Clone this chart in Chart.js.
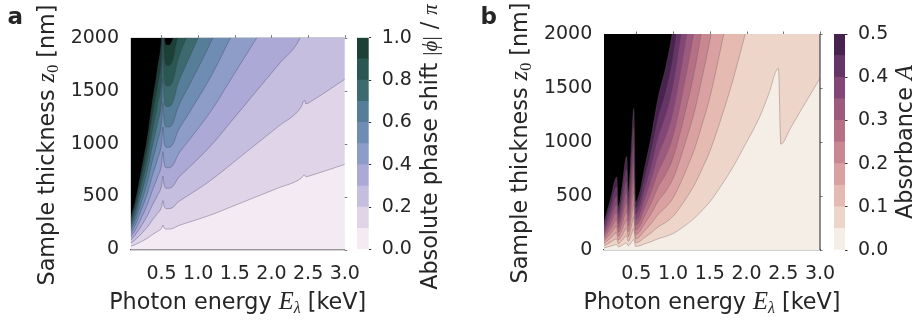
<!DOCTYPE html>
<html>
<head>
<meta charset="utf-8">
<title>Phase shift and absorbance vs photon energy</title>
<script src="https://cdn.jsdelivr.net/npm/chart.js"></script>
<style>
  body { margin: 0; background: #fff; }
  #fig { position: relative; width: 918px; height: 322px; overflow: hidden; }
  #fig canvas { position: absolute; top: 0; }
</style>
</head>
<body>
<div id="fig">
  <canvas id="mainA" width="385" height="322" style="left:0px"></canvas>
  <canvas id="barA" width="100" height="322" style="left:350px"></canvas>
  <canvas id="mainB" width="395" height="322" style="left:470px"></canvas>
  <canvas id="barB" width="92" height="322" style="left:826px"></canvas>
</div>
<script>
// ---------- panel a: contour lines of |phi|/pi (z0 in nm at each energy) ----------
const energyA = [0.08, 0.137, 0.228, 0.31, 0.373, 0.445, 0.5, 0.52, 0.535, 0.57, 0.6, 0.66, 0.72, 0.84, 1.0, 1.2, 1.44, 1.8, 2.1, 2.4, 2.45, 2.47, 2.55, 3.0];
const phase01 = [30, 44, 76, 107, 139, 170, 200, 231, 205, 193, 193, 200, 222, 250, 286, 333, 400, 500, 583, 670, 705, 688, 702, 804];
const phase02 = [60, 88, 151, 214, 277, 340, 400, 462, 410, 386, 386, 400, 444, 500, 571, 667, 800, 1000, 1166, 1340, 1410, 1376, 1404, 1608];
const phase03 = [90, 133, 227, 322, 416, 511, 600, 693, 615, 579, 579, 600, 667, 750, 857, 1000, 1200, 1500, 1749, 2010, 2115, 2064, 2106, 2412];
const phase04 = [120, 177, 303, 429, 554, 681, 800, 924, 820, 772, 772, 800, 889, 1000, 1143, 1333, 1600, 2000, 2332, 2680, 2820, 2752, 2808, 3216];
const phase05 = [150, 221, 379, 536, 693, 851, 1000, 1155, 1025, 965, 965, 1000, 1111, 1250, 1429, 1667, 2000, 2500, 2915, 3350, 3525, 3440, 3510, 4020];
const phase06 = [180, 265, 454, 643, 832, 1021, 1200, 1386, 1230, 1158, 1158, 1200, 1333, 1500, 1714, 2000, 2400, 3000, 3498, 4020, 4230, 4128, 4212, 4824];
const phase07 = [210, 309, 530, 750, 970, 1191, 1400, 1617, 1435, 1351, 1351, 1400, 1555, 1750, 2000, 2333, 2800, 3500, 4081, 4690, 4935, 4816, 4914, 5628];
const phase08 = [240, 354, 606, 858, 1109, 1362, 1600, 1848, 1640, 1544, 1544, 1600, 1778, 2000, 2286, 2666, 3200, 4000, 4664, 5360, 5640, 5504, 5616, 6432];
const phase09 = [270, 398, 681, 965, 1247, 1532, 1800, 2079, 1845, 1737, 1737, 1800, 2000, 2250, 2571, 3000, 3600, 4500, 5247, 6030, 6345, 6192, 6318, 7236];
const phase10 = [300, 442, 757, 1072, 1386, 1702, 2000, 2310, 2050, 1930, 1930, 2000, 2222, 2500, 2857, 3333, 4000, 5000, 5830, 6700, 7050, 6880, 7020, 8040];
const phaseCurves = [phase01, phase02, phase03, phase04, phase05, phase06, phase07, phase08, phase09, phase10];
const phaseLevels = [0, 0.1, 0.2, 0.3, 0.4, 0.5, 0.6, 0.7, 0.8, 0.9, 1.0];
const phaseColors = ['#f4eaf3', '#e0d4e9', '#c6bedf', '#aca9d7', '#8e9cc8', '#6f8db3', '#577e98', '#3c6a6e', '#2b5753', '#1c3f36'];
const phaseTicks = [0, 0.2, 0.4, 0.6, 0.8, 1.0];
const phaseTickLabels = ['0.0', '0.2', '0.4', '0.6', '0.8', '1.0'];

// ---------- panel b: contour lines of absorbance A ----------
const energyB = [0.06, 0.15, 0.233, 0.255, 0.30, 0.369, 0.39, 0.43, 0.466, 0.49, 0.55, 0.6, 0.7, 0.8, 0.9, 1.0, 1.1, 1.2, 1.3, 1.4, 1.5, 1.65, 1.8, 1.97, 2.18, 2.3, 2.434, 2.467, 2.6, 2.73, 3.0];
const abs05 = [19, 35, 50, 29, 41, 64, 39, 68, 97, 33, 40, 53, 77, 105, 125, 152, 195, 245, 300, 370, 445, 590, 750, 960, 1234, 1440, 1682, 980, 1130, 1281, 1590];
const abs10 = [39, 72, 103, 59, 84, 131, 80, 139, 199, 68, 82, 109, 158, 215, 256, 312, 400, 502, 615, 759, 912, 1210, 1538, 1968, 2530, 2952, 3448, 2009, 2317, 2626, 3260];
const abs15 = [60, 111, 159, 92, 130, 203, 124, 216, 307, 105, 127, 168, 244, 333, 396, 482, 618, 777, 951, 1173, 1411, 1870, 2378, 3043, 3912, 4565, 5332, 3107, 3582, 4061, 5040];
const abs20 = [83, 152, 218, 126, 178, 278, 170, 296, 422, 144, 174, 231, 335, 457, 544, 661, 848, 1066, 1305, 1610, 1936, 2567, 3263, 4176, 5368, 6264, 7317, 4263, 4916, 5572, 6917];
const abs25 = [107, 196, 281, 163, 230, 359, 219, 381, 544, 185, 224, 297, 432, 589, 701, 853, 1094, 1374, 1683, 2076, 2496, 3310, 4208, 5386, 6923, 8078, 9436, 5498, 6339, 7186, 8920];
const abs30 = [132, 243, 348, 202, 285, 445, 271, 473, 674, 229, 278, 368, 535, 730, 869, 1056, 1355, 1703, 2085, 2572, 3093, 4101, 5213, 6672, 8576, 10008, 11690, 6811, 7854, 8903, 11051];
const abs35 = [160, 294, 420, 244, 344, 538, 328, 571, 815, 277, 336, 445, 647, 882, 1050, 1277, 1638, 2058, 2520, 3108, 3738, 4956, 6300, 8064, 10366, 12096, 14129, 8232, 9492, 10760, 13356];
const abs40 = [189, 349, 498, 289, 408, 637, 388, 677, 966, 329, 398, 528, 767, 1046, 1245, 1514, 1942, 2440, 2988, 3685, 4432, 5876, 7470, 9562, 12291, 14342, 16753, 9761, 11255, 12759, 15836];
const abs45 = [221, 408, 583, 338, 478, 746, 454, 792, 1130, 384, 466, 617, 897, 1223, 1456, 1771, 2272, 2854, 3495, 4311, 5184, 6874, 8738, 11184, 14376, 16776, 19595, 11417, 13165, 14924, 18524];
const abs50 = [257, 473, 676, 392, 554, 865, 527, 919, 1310, 446, 540, 716, 1040, 1419, 1689, 2054, 2634, 3310, 4053, 4999, 6012, 7971, 10133, 12970, 16671, 19454, 22724, 13240, 15266, 17306, 21481];
const absCurves = [abs05, abs10, abs15, abs20, abs25, abs30, abs35, abs40, abs45, abs50];
const absLevels = [0, 0.05, 0.1, 0.15, 0.2, 0.25, 0.3, 0.35, 0.4, 0.45, 0.5];
const absColors = ['#f5eee6', '#eed5c9', '#e4bab1', '#d9a1a2', '#c98891', '#b67086', '#9d5a7f', '#834676', '#663466', '#482350'];
const absTicks = [0, 0.1, 0.2, 0.3, 0.4, 0.5];
const absTickLabels = ['0.0', '0.1', '0.2', '0.3', '0.4', '0.5'];

// shared axes
const energyTicks = [0.5, 1.0, 1.5, 2.0, 2.5, 3.0];
const energyTickLabels = ['0.5', '1.0', '1.5', '2.0', '2.5', '3.0'];
const thicknessTicks = [0, 500, 1000, 1500, 2000];
const thicknessTickLabels = ['0', '500', '1000', '1500', '2000'];

const INK = '#262626';
const SANS = '22.3px "DejaVu Sans"';
const MATH = 'italic 24.5px "Liberation Serif"';
const SUB = '16px "Liberation Serif"';
const SUB_I = 'italic 16px "Liberation Serif"';
const MATH_S = 'italic 21px "Liberation Serif"';
const MATH_S_UP = '21px "Liberation Serif"';
const tickFont = { family: 'DejaVu Sans', size: 19 };

// text with mixed fonts, drawn centred (or left) at x,y, rotated by rot
function drawRich(ctx, item) {
  ctx.save();
  ctx.translate(item.x, item.y);
  ctx.rotate(item.rot || 0);
  ctx.fillStyle = INK;
  ctx.textBaseline = 'alphabetic';
  ctx.textAlign = 'left';
  let total = 0;
  item.parts.forEach(p => { ctx.font = p[1]; total += ctx.measureText(p[0]).width; });
  let cx = item.align === 'left' ? 0 : -total / 2;
  item.parts.forEach(p => {
    ctx.font = p[1];
    ctx.fillText(p[0], cx, p[2] || 0);
    cx += ctx.measureText(p[0]).width;
  });
  ctx.restore();
}

const richText = {
  id: 'richText',
  afterDraw(chart, args, opts) {
    (opts.items || []).forEach(it => drawRich(chart.ctx, it));
  }
};

const areaFill = {
  id: 'areaFill',
  beforeDatasetsDraw(chart, args, opts) {
    const a = chart.chartArea, ctx = chart.ctx;
    ctx.save();
    ctx.fillStyle = opts.color;
    ctx.fillRect(a.left, a.top, a.right - a.left, a.bottom - a.top);
    ctx.restore();
  }
};

// small outer ticks on top and right, optional right spine
const frame = {
  id: 'frame',
  afterDraw(chart, args, opts) {
    const a = chart.chartArea, ctx = chart.ctx;
    const xs = chart.scales.x, ys = chart.scales.y;
    ctx.save();
    ctx.strokeStyle = opts.tickColor;
    ctx.lineWidth = 1;
    energyTicks.forEach(v => {
      const px = Math.round(xs.getPixelForValue(v)) + 0.5;
      ctx.beginPath(); ctx.moveTo(px, a.top); ctx.lineTo(px, a.top - 2.5); ctx.stroke();
    });
    thicknessTicks.forEach(v => {
      const py = Math.round(ys.getPixelForValue(v)) + 0.5;
      ctx.beginPath(); ctx.moveTo(a.right, py); ctx.lineTo(a.right + 2.5, py); ctx.stroke();
    });
    if (opts.rightSpine) {
      ctx.strokeStyle = '#444';
      ctx.lineWidth = 1.2;
      ctx.beginPath(); ctx.moveTo(a.right, a.top); ctx.lineTo(a.right, a.bottom); ctx.stroke();
    }
    ctx.restore();
  }
};

function contourChart(id, energy, curves, colors, lineColor, xmin, box, extras) {
  const fills = colors.slice(1).concat(['#000000']);
  const datasets = curves.map((ys, k) => ({
    data: ys.map((z, i) => ({ x: energy[i], y: z })),
    borderColor: lineColor,
    borderWidth: 0.7,
    pointRadius: 0,
    fill: 'end',
    backgroundColor: fills[k],
    cubicInterpolationMode: 'monotone',
    order: curves.length - k
  }));
  return new Chart(document.getElementById(id), {
    type: 'line',
    data: { datasets },
    plugins: [areaFill, frame, richText],
    options: {
      responsive: false, animation: false, devicePixelRatio: 1, events: [],
      layout: { padding: { left: 0, top: box.top, right: box.right, bottom: 0 } },
      plugins: {
        legend: { display: false },
        tooltip: { enabled: false },
        areaFill: { color: colors[0] },
        frame: { tickColor: 'rgba(60,60,60,0.7)', rightSpine: extras.rightSpine },
        richText: { items: extras.texts }
      },
      scales: {
        x: {
          type: 'linear', min: xmin, max: 3.0, z: 1,
          afterBuildTicks: s => { s.ticks = energyTicks.map(v => ({ value: v })); },
          afterFit: s => { s.height = box.xHeight; },
          ticks: { callback: (v, i) => energyTickLabels[i], font: tickFont, color: INK, padding: 13, maxRotation: 0, autoSkip: false },
          grid: { display: false, drawTicks: false },
          border: { display: true, color: '#444', width: 1.2 }
        },
        y: {
          type: 'linear', min: 0, max: 2000,
          afterBuildTicks: s => { s.ticks = thicknessTicks.map(v => ({ value: v })); },
          afterFit: s => { s.width = box.yWidth; },
          ticks: { callback: (v, i) => thicknessTickLabels[i], font: tickFont, color: INK, padding: 11.7, autoSkip: false },
          grid: { display: false, drawTicks: false },
          border: { display: false }
        }
      }
    }
  });
}

function colorbarChart(id, levels, colors, ticks, tickLabels, box, texts) {
  const datasets = colors.map((c, i) => ({
    data: [[levels[i], levels[i + 1]]],
    backgroundColor: c,
    borderWidth: 0,
    barPercentage: 1,
    categoryPercentage: 1,
    grouped: false
  }));
  return new Chart(document.getElementById(id), {
    type: 'bar',
    data: { labels: [''], datasets },
    plugins: [richText],
    options: {
      responsive: false, animation: false, devicePixelRatio: 1, events: [],
      layout: { padding: { left: box.left, top: box.top, right: 0, bottom: box.bottom } },
      plugins: { legend: { display: false }, tooltip: { enabled: false }, richText: { items: texts } },
      scales: {
        x: { display: false },
        y: {
          position: 'right', min: levels[0], max: levels[levels.length - 1],
          afterBuildTicks: s => { s.ticks = ticks.map(v => ({ value: v })); },
          afterFit: s => { s.width = box.yWidth; },
          ticks: { callback: (v, i) => tickLabels[i], font: tickFont, color: INK, padding: 10.5, autoSkip: false },
          grid: { drawOnChartArea: false, drawTicks: true, tickLength: 2.5, color: '#333' },
          border: { display: false }
        }
      }
    }
  });
}

// panel a
contourChart('mainA', energyA, phaseCurves, phaseColors, 'rgba(60,60,85,0.5)', 0.08,
  { top: 37.7, right: 40.2, yWidth: 130.7, xHeight: 72.5 },
  { rightSpine: false, texts: [
    { x: 7.5, y: 24, align: 'left', parts: [['a', 'bold 23px "DejaVu Sans"']] },
    { x: 54, y: 145, rot: -Math.PI / 2, parts: [['Sample thickness ', SANS], ['z', MATH], ['0', SUB, 4], [' [nm]', SANS]] },
    { x: 237.7, y: 309, parts: [['Photon energy ', SANS], ['E', MATH], ['λ', SUB_I, 4], [' [keV]', SANS]] }
  ] });

colorbarChart('barA', phaseLevels, phaseColors, phaseTicks, phaseTickLabels,
  { left: 7, top: 37.7, bottom: 72.5, yWidth: 81.3 },
  [ { x: 86.7, y: 147, rot: -Math.PI / 2, parts: [['Absolute phase shift ', SANS], ['|', MATH_S_UP], ['ϕ', MATH_S], ['|', MATH_S_UP], [' / ', SANS], ['π', MATH_S]] } ]);

// panel b
contourChart('mainB', energyB, absCurves, absColors, 'rgba(110,90,90,0.5)', 0.06,
  { top: 34, right: 45, yWidth: 134, xHeight: 72 },
  { rightSpine: true, texts: [
    { x: 10.5, y: 24, align: 'left', parts: [['b', 'bold 23px "DejaVu Sans"']] },
    { x: 56.5, y: 143, rot: -Math.PI / 2, parts: [['Sample thickness ', SANS], ['z', MATH], ['0', SUB, 4], [' [nm]', SANS]] },
    { x: 242, y: 309, parts: [['Photon energy ', SANS], ['E', MATH], ['λ', SUB_I, 4], [' [keV]', SANS]] }
  ] });

colorbarChart('barB', absLevels, absColors, absTicks, absTickLabels,
  { left: 8, top: 34, bottom: 72, yWidth: 73 },
  [ { x: 86, y: 142, rot: -Math.PI / 2, parts: [['Absorbance ', SANS], ['A', MATH]] } ]);
</script>
</body>
</html>
